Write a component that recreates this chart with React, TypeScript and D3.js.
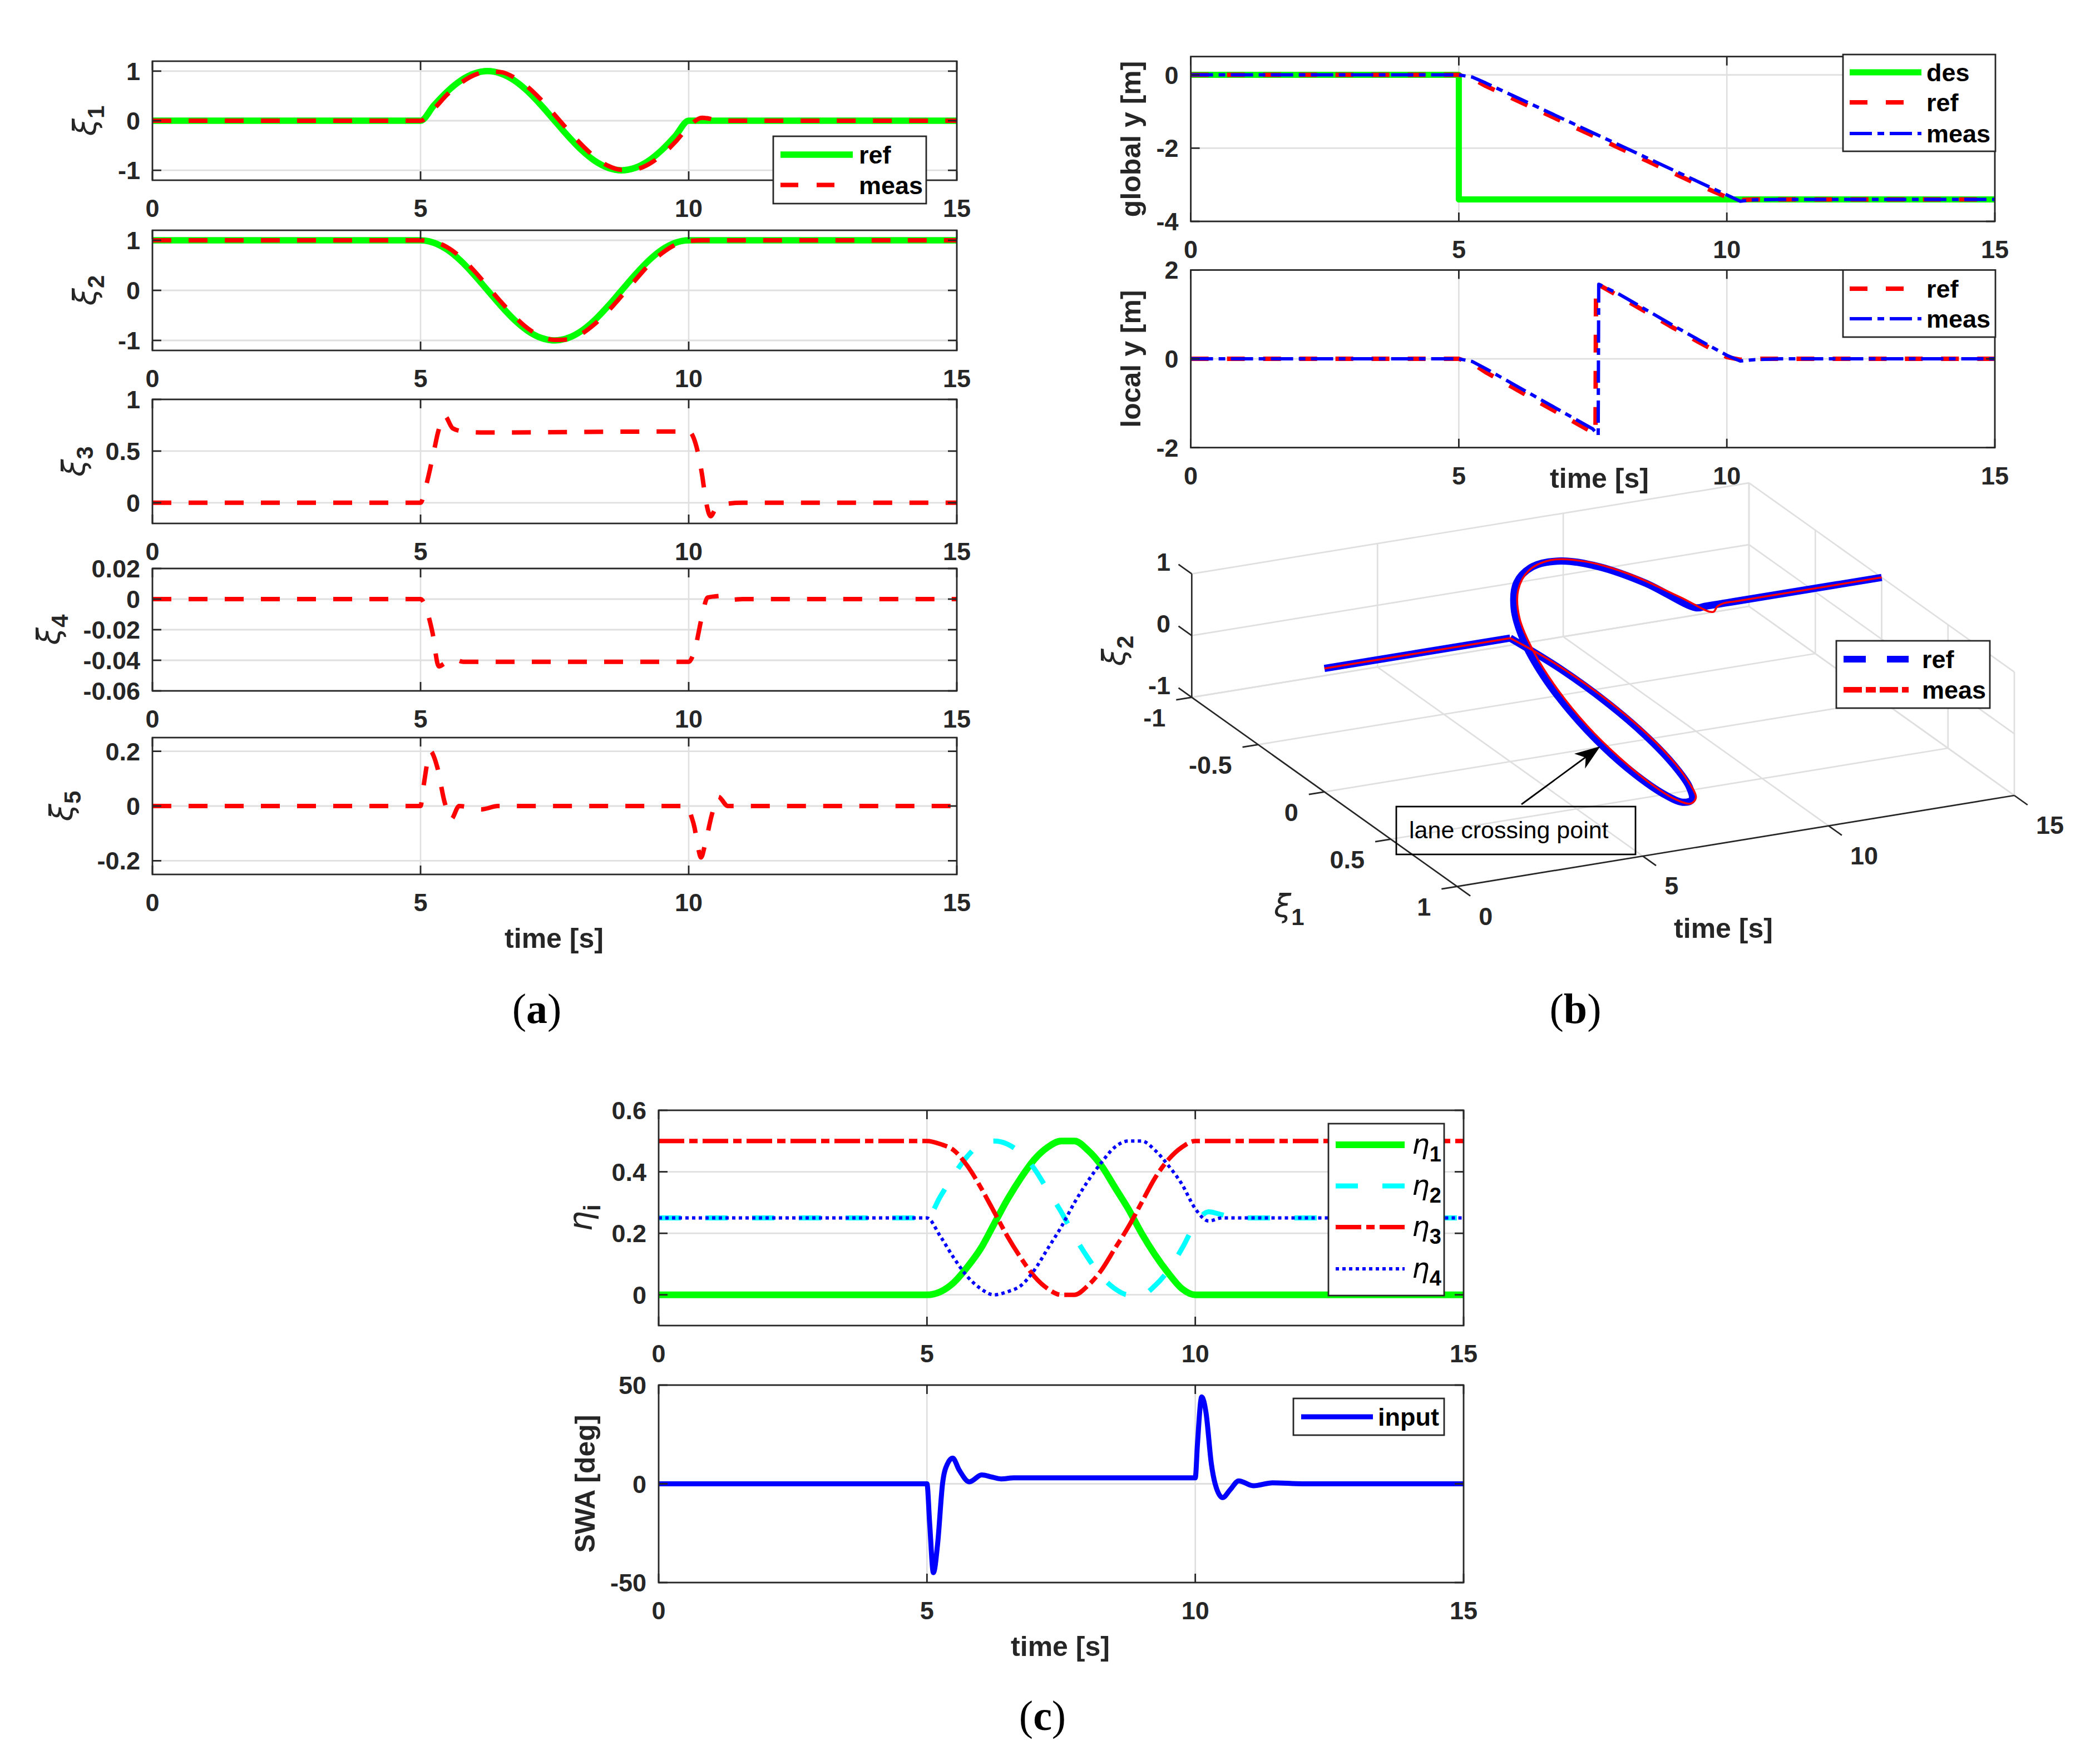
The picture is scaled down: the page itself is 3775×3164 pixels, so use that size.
import React from "react";
import * as d3 from "d3";

// ---------- values ----------
const timeTicks = [0, 5, 10, 15];

// shared time grid of the smooth signals [s]
const tS = [0, 5, 5.25, 5.5, 5.75, 6, 6.25, 6.5, 6.75, 7, 7.25, 7.5, 7.75, 8, 8.25, 8.5, 8.75, 9, 9.25, 9.5, 9.75, 10, 10.25, 10.5, 10.75, 11, 15];
const xi1Ref = [0, 0, 0.31, 0.59, 0.81, 0.95, 1, 0.95, 0.81, 0.59, 0.31, 0, -0.31, -0.59, -0.81, -0.95, -1, -0.95, -0.81, -0.59, -0.31, 0, 0, 0, 0, 0, 0];
const xi1Meas = [0, 0, 0.24, 0.53, 0.76, 0.92, 0.99, 0.98, 0.87, 0.68, 0.42, 0.12, -0.19, -0.48, -0.73, -0.91, -0.99, -0.98, -0.88, -0.69, -0.43, -0.12, 0.06, 0.02, 0, 0, 0];
const xi2Ref = [1, 1, 0.95, 0.81, 0.59, 0.31, 0, -0.31, -0.59, -0.81, -0.95, -1, -0.95, -0.81, -0.59, -0.31, 0, 0.31, 0.59, 0.81, 0.95, 1, 1, 1, 1, 1, 1];
const xi2Meas = [1, 1, 0.97, 0.86, 0.66, 0.39, 0.08, -0.23, -0.52, -0.76, -0.92, -0.99, -0.98, -0.87, -0.67, -0.41, -0.11, 0.2, 0.5, 0.74, 0.91, 0.99, 1, 1, 1, 1, 1];
const eta1 = [0, 0, 0.01, 0.04, 0.09, 0.15, 0.23, 0.31, 0.38, 0.44, 0.48, 0.5, 0.5, 0.47, 0.42, 0.35, 0.28, 0.2, 0.13, 0.07, 0.02, 0, 0, 0, 0, 0, 0];
const eta2 = [0.25, 0.25, 0.32, 0.39, 0.45, 0.49, 0.5, 0.49, 0.46, 0.41, 0.34, 0.27, 0.19, 0.12, 0.06, 0.02, 0, 0, 0.03, 0.08, 0.15, 0.23, 0.27, 0.26, 0.25, 0.25, 0.25];
const eta3 = [0.5, 0.5, 0.49, 0.47, 0.42, 0.35, 0.27, 0.19, 0.12, 0.06, 0.02, 0, 0, 0.03, 0.08, 0.15, 0.22, 0.3, 0.38, 0.44, 0.48, 0.5, 0.5, 0.5, 0.5, 0.5, 0.5];
const eta4 = [0.25, 0.25, 0.19, 0.12, 0.06, 0.02, 0, 0.01, 0.03, 0.08, 0.15, 0.22, 0.3, 0.37, 0.43, 0.48, 0.5, 0.5, 0.47, 0.42, 0.36, 0.28, 0.24, 0.25, 0.25, 0.25, 0.25];

// xi3..xi5 (meas only)
const t3 = [0, 5, 5.1, 5.25, 5.32, 5.45, 5.6, 5.8, 6.2, 10, 10.13, 10.25, 10.32, 10.41, 10.5, 10.7, 11, 15];
const xi3 = [0, 0, 0.16, 0.5, 0.67, 0.84, 0.72, 0.69, 0.68, 0.69, 0.57, 0.27, 0.02, -0.13, -0.06, -0.01, 0, 0];
const t4 = [0, 5, 5.13, 5.22, 5.34, 5.45, 5.63, 5.8, 10, 10.11, 10.25, 10.35, 10.5, 10.65, 10.8, 11, 15];
const xi4 = [0, 0, -0.009, -0.0215, -0.044, -0.042, -0.0395, -0.041, -0.041, -0.0335, -0.011, 0.001, 0.0018, 0.0022, -0.0004, 0, 0];
const t5 = [0, 5, 5.05, 5.19, 5.25, 5.31, 5.45, 5.57, 5.72, 6.14, 6.44, 10, 10.02, 10.11, 10.17, 10.23, 10.31, 10.43, 10.55, 10.73, 15];
const xi5 = [0, 0, 0.065, 0.2, 0.18, 0.143, 0.013, -0.048, 0, -0.012, 0, 0, -0.017, -0.08, -0.147, -0.188, -0.136, -0.033, 0.034, 0, 0];

// global / local lateral position [m]
const tDes = [0, 5, 5, 15];
const gyDes = [0, 0, -3.4, -3.4];
const tG = [0, 5, 5.25, 5.5, 6, 6.5, 7, 7.5, 8, 8.5, 9, 9.5, 10, 10.25, 10.5, 11, 15];
const gyRef = [0, 0, -0.1, -0.3, -0.64, -0.98, -1.32, -1.66, -2.0, -2.34, -2.68, -3.02, -3.34, -3.42, -3.4, -3.4, -3.4];
const gyMeas = [0, 0, -0.06, -0.22, -0.56, -0.9, -1.24, -1.58, -1.92, -2.26, -2.6, -2.94, -3.28, -3.45, -3.41, -3.4, -3.4];
const tLRef = [0, 5, 5.25, 5.5, 6, 6.5, 7, 7.5, 7.55, 7.56, 8, 8.5, 9, 9.5, 10, 10.25, 10.5, 11, 15];
const lyRef = [0, 0, -0.1, -0.3, -0.64, -0.98, -1.32, -1.66, -1.7, 1.7, 1.4, 1.05, 0.7, 0.36, 0.04, -0.02, 0, 0, 0];
const tLMeas = [0, 5, 5.25, 5.5, 6, 6.5, 7, 7.5, 7.6, 7.61, 8, 8.5, 9, 9.5, 10, 10.25, 10.5, 11, 15];
const lyMeas = [0, 0, -0.06, -0.22, -0.56, -0.9, -1.24, -1.58, -1.72, 1.68, 1.45, 1.1, 0.75, 0.41, 0.08, -0.05, -0.02, 0, 0];

// steering wheel angle [deg]
const tW = [0, 5, 5.05, 5.12, 5.2, 5.29, 5.38, 5.48, 5.6, 5.79, 6.02, 6.2, 6.38, 6.62, 10, 10.04, 10.12, 10.2, 10.3, 10.37, 10.51, 10.65, 10.81, 11.08, 11.44, 12, 15];
const swa = [0, 0, -20, -45, -30, 0, 10, 13, 7, 1, 4.5, 3.5, 2.5, 3, 3, 20, 44, 36, 10, 0, -7, -3, 1.5, -1, 0.5, 0, 0];

// tick values
const yt12 = [-1, 0, 1];
const yt3 = [0, 0.5, 1];
const yt4 = [-0.06, -0.04, -0.02, 0, 0.02];
const yt5 = [-0.2, 0, 0.2];
const ytG = [-4, -2, 0];
const ytL = [-2, 0, 2];
const ytEta = [0, 0.2, 0.4, 0.6];
const ytSwa = [-50, 0, 50];
const xi1Ticks3 = [-1, -0.5, 0, 0.5, 1];
const xi2Ticks3 = [-1, 0, 1];

// ---------- styling ----------
const INK = "#262626";
const GRID = "#dfdfdf";
const FONT = "'Liberation Sans', Arial, Helvetica, sans-serif";
const GREEK = "'DejaVu Sans', 'Liberation Sans', sans-serif";
const SERIF = "'Liberation Serif', 'DejaVu Serif', serif";
const GREEN = "#00ff00";
const RED = "#ff0000";
const BLUE = "#0000ff";
const CYAN = "#00ffff";
const TICKFS = 45;

type Box = { l: number; t: number; r: number; b: number };
type Series = { t: number[]; v: number[]; color: string; width: number; dash?: string; curve?: d3.CurveFactory };

const Greek = ({ sym, sub, size, subSize }: { sym: string; sub: string; size: number; subSize: number }) => (
  <>
    <tspan fontFamily={GREEK} fontStyle="italic" fontWeight="normal" fontSize={size}>{sym}</tspan>
    <tspan fontFamily={FONT} fontWeight="bold" fontSize={subSize} dy={subSize * 0.36}>{sub}</tspan>
  </>
);

const Panel2D = ({ id, box, yDomain, yTicks, lines }: { id: string; box: Box; yDomain: [number, number]; yTicks: number[]; lines: Series[] }) => {
  const x = d3.scaleLinear().domain([0, 15]).range([box.l, box.r]);
  const y = d3.scaleLinear().domain(yDomain).range([box.b, box.t]);
  const tk = 16;
  return (
    <g>
      <defs>
        <clipPath id={id}>
          <rect x={box.l} y={box.t} width={box.r - box.l} height={box.b - box.t} />
        </clipPath>
      </defs>
      {timeTicks.map((v) => (
        <line key={"gx" + v} x1={x(v)} x2={x(v)} y1={box.t} y2={box.b} stroke={GRID} strokeWidth={2.6} />
      ))}
      {yTicks.map((v) => (
        <line key={"gy" + v} x1={box.l} x2={box.r} y1={y(v)} y2={y(v)} stroke={GRID} strokeWidth={2.8} />
      ))}
      <g clipPath={`url(#${id})`}>
        {lines.map((s, i) => {
          const gen = d3
            .line<number>()
            .x((_, j) => x(s.t[j]))
            .y((d) => y(d))
            .curve(s.curve ?? d3.curveMonotoneX);
          return (
            <path key={i} d={gen(s.v) ?? ""} fill="none" stroke={s.color} strokeWidth={s.width}
              strokeDasharray={s.dash} strokeLinejoin="round" />
          );
        })}
      </g>
      <rect x={box.l} y={box.t} width={box.r - box.l} height={box.b - box.t} fill="none" stroke={INK} strokeWidth={2.8} />
      {timeTicks.map((v) => (
        <g key={"tx" + v} stroke={INK} strokeWidth={2.8}>
          <line x1={x(v)} x2={x(v)} y1={box.b} y2={box.b - tk} />
          <line x1={x(v)} x2={x(v)} y1={box.t} y2={box.t + tk} />
        </g>
      ))}
      {yTicks.map((v) => (
        <g key={"ty" + v} stroke={INK} strokeWidth={2.8}>
          <line x1={box.l} x2={box.l + tk} y1={y(v)} y2={y(v)} />
          <line x1={box.r} x2={box.r - tk} y1={y(v)} y2={y(v)} />
        </g>
      ))}
      <g fontFamily={FONT} fontWeight="bold" fontSize={TICKFS} fill={INK}>
        {timeTicks.map((v) => (
          <text key={"lx" + v} x={x(v)} y={box.b + 66} textAnchor="middle">{String(v)}</text>
        ))}
        {yTicks.map((v) => (
          <text key={"ly" + v} x={box.l - 22} y={y(v) + 16} textAnchor="end">{String(v)}</text>
        ))}
      </g>
    </g>
  );
};

type Item = { label: React.ReactNode; color: string; width: number; dash?: string; y: number };
const Legend = ({ box, x0, x1, tx, items }: { box: Box; x0: number; x1: number; tx: number; items: Item[] }) => (
  <g>
    <rect x={box.l} y={box.t} width={box.r - box.l} height={box.b - box.t} fill="#fff" stroke={INK} strokeWidth={2.8} />
    {items.map((it, i) => (
      <g key={i}>
        <line x1={x0} x2={x1} y1={it.y} y2={it.y} stroke={it.color} strokeWidth={it.width} strokeDasharray={it.dash} />
        <text x={tx} y={it.y + 16} fontFamily={FONT} fontWeight="bold" fontSize={TICKFS} fill="#000">{it.label}</text>
      </g>
    ))}
  </g>
);

const YLabel = ({ x, y, children, size = 50 }: { x: number; y: number; children: React.ReactNode; size?: number }) => (
  <text transform={`translate(${x},${y}) rotate(-90)`} textAnchor="middle" fontFamily={FONT} fontWeight="bold"
    fontSize={size} fill={INK}>{children}</text>
);

const XLabel = ({ x, y, text }: { x: number; y: number; text: string }) => (
  <text x={x} y={y} textAnchor="middle" fontFamily={FONT} fontWeight="bold" fontSize={50} fill={INK}>{text}</text>
);

const XiLabel = ({ x, y, n }: { x: number; y: number; n: string }) => (
  <YLabel x={x} y={y} size={56}><Greek sym="ξ" sub={n} size={56} subSize={42} /></YLabel>
);

// ---------- 3D view (orthographic, MATLAB-like) ----------
const Plot3D = () => {
  const tAx = d3.scaleLinear().domain([0, 15]).range([0, 1]);
  const aAx = d3.scaleLinear().domain([-1, 1]).range([0, 1]);
  const bAx = d3.scaleLinear().domain([-1, 1]).range([0, 1]);
  const O = [2142.3, 1253.6];
  const TV = [1001.7, -163.6];
  const XV = [477, 340];
  const ZV = [0, -221.9];
  const P = (t: number, a: number, b: number): [number, number] => [
    O[0] + tAx(t) * TV[0] + aAx(a) * XV[0] + bAx(b) * ZV[0],
    O[1] + tAx(t) * TV[1] + aAx(a) * XV[1] + bAx(b) * ZV[1],
  ];
  const seg = (p: [number, number], q: [number, number], key: string, stroke: string) => (
    <line key={key} x1={p[0]} y1={p[1]} x2={q[0]} y2={q[1]} stroke={stroke} strokeWidth={2.7} />
  );
  const grid: React.ReactNode[] = [];
  timeTicks.forEach((t) => {
    if (t > 0) grid.push(seg(P(t, -1, -1), P(t, -1, 1), "bw" + t, GRID));
    if (t > 0) grid.push(seg(P(t, -1, -1), P(t, 1, -1), "fl" + t, GRID));
  });
  xi2Ticks3.forEach((b) => {
    grid.push(seg(P(0, -1, b), P(15, -1, b), "bh" + b, GRID));
    grid.push(seg(P(15, -1, b), P(15, 1, b), "rh" + b, GRID));
  });
  xi1Ticks3.forEach((a) => {
    if (a < 1) grid.push(seg(P(0, a, -1), P(15, a, -1), "ft" + a, GRID));
    grid.push(seg(P(15, a, -1), P(15, a, 1), "rv" + a, GRID));
  });

  // straight parts are linear, the manoeuvre part is a smooth curve
  const lin = d3.line<[number, number]>().curve(d3.curveLinear);
  const smooth = d3.line<[number, number]>().curve(d3.curveCatmullRom.alpha(0.5));
  const i5 = tS.indexOf(5);
  const i11 = tS.indexOf(11);
  const path3 = (a: number[], b: number[]) => {
    const pts = tS.map((t, j) => P(t, a[j], b[j]));
    return (
      (lin(pts.slice(0, i5 + 1)) ?? "") +
      (smooth(pts.slice(i5, i11 + 1)) ?? "") +
      (lin(pts.slice(i11)) ?? "")
    );
  };

  const axes: React.ReactNode[] = [];
  axes.push(seg(P(0, -1, -1), P(0, -1, 1), "az", INK));
  axes.push(seg(P(0, -1, -1), P(0, 1, -1), "ax", INK));
  axes.push(seg(P(0, 1, -1), P(15, 1, -1), "at", INK));
  xi2Ticks3.forEach((b) => {
    const p = P(0, -1, b);
    axes.push(seg(p, [p[0] - 23.8, p[1] - 17], "kz" + b, INK));
  });
  xi1Ticks3.forEach((a) => {
    const p = P(0, a, -1);
    axes.push(seg(p, [p[0] - 28, p[1] + 4.6], "kx" + a, INK));
  });
  timeTicks.forEach((t) => {
    const p = P(t, 1, -1);
    axes.push(seg(p, [p[0] + 23.8, p[1] + 17], "kt" + t, INK));
  });

  return (
    <g>
      {grid}
      {axes}
      <path d={path3(xi1Ref, xi2Ref)} fill="none" stroke={BLUE} strokeWidth={13} strokeLinejoin="round" />
      <path d={path3(xi1Meas, xi2Meas)} fill="none" stroke={RED} strokeWidth={3.5} strokeLinejoin="round" />
      <g fontFamily={FONT} fontWeight="bold" fontSize={TICKFS} fill={INK}>
        {xi2Ticks3.map((b) => {
          const p = P(0, -1, b);
          return <text key={"lz" + b} x={2104} y={p[1] - 6} textAnchor="end">{String(b)}</text>;
        })}
        {xi1Ticks3.map((a) => {
          const p = P(0, a, -1);
          return <text key={"lx" + a} x={p[0] - 47} y={p[1] + 52} textAnchor="end">{String(a)}</text>;
        })}
        {timeTicks.map((t) => {
          const p = P(t, 1, -1);
          return <text key={"lt" + t} x={p[0] + 39} y={p[1] + 69} textAnchor="start">{String(t)}</text>;
        })}
      </g>
      <XiLabel x={2022} y={1170} n="2" />
      <text x={2290} y={1648} fontFamily={FONT} fontWeight="bold" fill={INK}>
        <Greek sym="ξ" sub="1" size={56} subSize={42} />
      </text>
      <XLabel x={3098} y={1686} text="time [s]" />
      <Legend
        box={{ l: 3301, t: 1152, r: 3577, b: 1273 }}
        x0={3314} x1={3431} tx={3455}
        items={[
          { label: "ref", color: BLUE, width: 12, dash: "40 38", y: 1185 },
          { label: "meas", color: RED, width: 10, dash: "33 7 18 7", y: 1240 },
        ]}
      />
      {/* annotation */}
      <rect x={2510} y={1450} width={430} height={86} fill="none" stroke="#000" strokeWidth={2.8} />
      <text x={2533} y={1507} fontFamily={FONT} fontSize={43} fill="#000">lane crossing point</text>
      <line x1={2735} y1={1446} x2={2852} y2={1360} stroke="#000" strokeWidth={2.8} />
      <polygon points="2876.7,1341.7 2830,1355 2850.5,1362 2849.3,1381.7" fill="#000" />
    </g>
  );
};

const App = () => {
  // panel (a)
  const aL = 274, aR = 1720;
  const a1: Box = { l: aL, r: aR, t: 110, b: 324 };
  const a2: Box = { l: aL, r: aR, t: 414, b: 630 };
  const a3: Box = { l: aL, r: aR, t: 718, b: 941 };
  const a4: Box = { l: aL, r: aR, t: 1022, b: 1242 };
  const a5: Box = { l: aL, r: aR, t: 1326, b: 1572 };
  // panel (b)
  const bL = 2140.6, bR = 3586;
  const b1: Box = { l: bL, r: bR, t: 101.7, b: 398 };
  const b2: Box = { l: bL, r: bR, t: 485.4, b: 804.7 };
  // panel (c)
  const cL = 1184, cR = 2631;
  const c1: Box = { l: cL, r: cR, t: 1996, b: 2383 };
  const c2: Box = { l: cL, r: cR, t: 2490, b: 2845 };

  const mid = (b: Box) => (b.t + b.b) / 2;
  const measDash = "34 31";
  const etaLab = (n: string) => <Greek sym="η" sub={n} size={50} subSize={38} />;

  return (
    <div style={{ position: "absolute", left: 0, top: 0 }}>
      <svg width={3775} height={3164} viewBox="0 0 3775 3164" style={{ display: "block", background: "#fff" }}>
        <rect x={0} y={0} width={3775} height={3164} fill="#fff" />

        {/* ---- (a) ---- */}
        <Panel2D id="ca1" box={a1} yDomain={[-1.2, 1.2]} yTicks={yt12} lines={[
          { t: tS, v: xi1Ref, color: GREEN, width: 11.5 },
          { t: tS, v: xi1Meas, color: RED, width: 8, dash: measDash },
        ]} />
        <Panel2D id="ca2" box={a2} yDomain={[-1.2, 1.2]} yTicks={yt12} lines={[
          { t: tS, v: xi2Ref, color: GREEN, width: 11.5 },
          { t: tS, v: xi2Meas, color: RED, width: 8, dash: measDash },
        ]} />
        <Panel2D id="ca3" box={a3} yDomain={[-0.2, 1]} yTicks={yt3} lines={[
          { t: t3, v: xi3, color: RED, width: 8, dash: measDash },
        ]} />
        <Panel2D id="ca4" box={a4} yDomain={[-0.06, 0.02]} yTicks={yt4} lines={[
          { t: t4, v: xi4, color: RED, width: 8, dash: measDash },
        ]} />
        <Panel2D id="ca5" box={a5} yDomain={[-0.25, 0.25]} yTicks={yt5} lines={[
          { t: t5, v: xi5, color: RED, width: 8, dash: measDash },
        ]} />
        <XiLabel x={172} y={mid(a1)} n="1" />
        <XiLabel x={172} y={mid(a2)} n="2" />
        <XiLabel x={152} y={mid(a3)} n="3" />
        <XiLabel x={107} y={mid(a4)} n="4" />
        <XiLabel x={130} y={mid(a5)} n="5" />
        <XLabel x={996} y={1704} text="time [s]" />
        <Legend box={{ l: 1390, t: 245, r: 1665, b: 366 }} x0={1403} x1={1533} tx={1544} items={[
          { label: "ref", color: GREEN, width: 11.5, y: 278 },
          { label: "meas", color: RED, width: 8, dash: "32 33", y: 332.6 },
        ]} />

        {/* ---- (b) ---- */}
        <Panel2D id="cb1" box={b1} yDomain={[-4, 0.5]} yTicks={ytG} lines={[
          { t: tDes, v: gyDes, color: GREEN, width: 11, curve: d3.curveLinear },
          { t: tG, v: gyRef, color: RED, width: 8, dash: "32 33", curve: d3.curveLinear },
          { t: tG, v: gyMeas, color: BLUE, width: 6, dash: "40 10 12 10", curve: d3.curveLinear },
        ]} />
        <Panel2D id="cb2" box={b2} yDomain={[-2, 2]} yTicks={ytL} lines={[
          { t: tLRef, v: lyRef, color: RED, width: 8, dash: "32 33", curve: d3.curveLinear },
          { t: tLMeas, v: lyMeas, color: BLUE, width: 6, dash: "40 10 12 10", curve: d3.curveLinear },
        ]} />
        <YLabel x={2050} y={mid(b1)}>global y [m]</YLabel>
        <YLabel x={2050} y={mid(b2)}>local y [m]</YLabel>
        <XLabel x={2875} y={877} text="time [s]" />
        <Legend box={{ l: 3313, t: 98, r: 3587, b: 272 }} x0={3325} x1={3454} tx={3463} items={[
          { label: "des", color: GREEN, width: 11, y: 130 },
          { label: "ref", color: RED, width: 8, dash: "32 33", y: 184 },
          { label: "meas", color: BLUE, width: 6, dash: "40 10 12 10", y: 240 },
        ]} />
        <Legend box={{ l: 3313, t: 485.4, r: 3587, b: 606 }} x0={3325} x1={3454} tx={3463} items={[
          { label: "ref", color: RED, width: 8, dash: "32 33", y: 519 },
          { label: "meas", color: BLUE, width: 6, dash: "40 10 12 10", y: 573 },
        ]} />
        <Plot3D />

        {/* ---- (c) ---- */}
        <Panel2D id="cc1" box={c1} yDomain={[-0.1, 0.6]} yTicks={ytEta} lines={[
          { t: tS, v: eta1, color: GREEN, width: 12 },
          { t: tS, v: eta2, color: CYAN, width: 9, dash: "40 44" },
          { t: tS, v: eta3, color: RED, width: 8, dash: "46 9 15 9" },
          { t: tS, v: eta4, color: BLUE, width: 6, dash: "6 6" },
        ]} />
        <Panel2D id="cc2" box={c2} yDomain={[-50, 50]} yTicks={ytSwa} lines={[
          { t: tW, v: swa, color: BLUE, width: 9 },
        ]} />
        <YLabel x={1064} y={mid(c1)} size={58}><Greek sym="η" sub="i" size={58} subSize={42} /></YLabel>
        <YLabel x={1069} y={mid(c2)}>SWA [deg]</YLabel>
        <XLabel x={1906} y={2977} text="time [s]" />
        <Legend box={{ l: 2388, t: 2020, r: 2596, b: 2329 }} x0={2401} x1={2525} tx={2538} items={[
          { label: etaLab("1"), color: GREEN, width: 12, y: 2058 },
          { label: etaLab("2"), color: CYAN, width: 9, dash: "40 44", y: 2132 },
          { label: etaLab("3"), color: RED, width: 8, dash: "46 9 15 9", y: 2206 },
          { label: etaLab("4"), color: BLUE, width: 6, dash: "6 6", y: 2281 },
        ]} />
        <Legend box={{ l: 2325, t: 2514, r: 2596, b: 2580 }} x0={2339} x1={2468} tx={2477} items={[
          { label: "input", color: BLUE, width: 9, y: 2547 },
        ]} />

        {/* ---- captions ---- */}
        <g fontFamily={SERIF} fontSize={76} fill="#000" textAnchor="middle">
          <text x={965} y={1839}>(<tspan fontWeight="bold">a</tspan>)</text>
          <text x={2832} y={1839}>(<tspan fontWeight="bold">b</tspan>)</text>
          <text x={1874} y={3110}>(<tspan fontWeight="bold">c</tspan>)</text>
        </g>
      </svg>
    </div>
  );
};

export default App;
